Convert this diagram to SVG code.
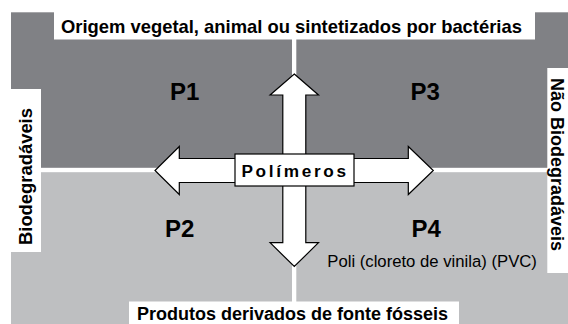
<svg xmlns="http://www.w3.org/2000/svg" width="568" height="324" viewBox="0 0 568 324">
<style>
.dark{fill:#808185}
.light{fill:#bebfc1}
.wbox{fill:#ffffff}
.lbl{font-family:"Liberation Sans",Arial,sans-serif;font-weight:bold;font-size:18.4px;fill:#000}
.edge{font-size:18px}
.pn{font-family:"Liberation Sans",Arial,sans-serif;font-weight:bold;font-size:24px;fill:#000}
.small{font-family:"Liberation Sans",Arial,sans-serif;font-size:16.7px;fill:#000}
.arrow{fill:#fff;stroke:#000;stroke-width:1.2;stroke-linejoin:miter}
</style>
<rect width="568" height="324" fill="#fff"/>
<g id="quadrants">
  <g id="q-P1"><rect class="dark" x="11" y="12.3" width="281" height="155.5"/><text class="pn" x="170" y="99.5">P1</text></g>
  <g id="q-P3"><rect class="dark" x="296.3" y="12.3" width="272" height="155.5"/><text class="pn" x="410.5" y="100">P3</text></g>
  <g id="q-P2"><rect class="light" x="11" y="172.2" width="281" height="152"/><text class="pn" x="165" y="236.6">P2</text></g>
  <g id="q-P4"><rect class="light" x="296.3" y="172.2" width="272" height="152"/><text class="pn" x="411.5" y="236.7">P4</text>
    <text class="small" x="327.3" y="267">Poli (cloreto de vinila) (PVC)</text></g>
</g>
<g id="label-top"><rect class="wbox" x="54" y="0" width="481" height="39.5"/><text class="lbl" x="61" y="32.5">Origem vegetal, animal ou sintetizados por bactérias</text></g>
<g id="label-left"><rect class="wbox" x="0" y="89" width="41" height="163"/><text class="lbl" transform="translate(32,245) rotate(-90)">Biodegradáveis</text></g>
<g id="label-right"><rect class="wbox" x="547.3" y="68" width="21" height="205"/><text class="lbl edge" transform="translate(551.3,78) rotate(90)">Não Biodegradáveis</text></g>
<g id="label-bottom"><rect class="wbox" x="129" y="301.5" width="330" height="23"/><text class="lbl edge" x="137" y="320">Produtos derivados de fonte fósseis</text></g>
<g id="connectors">
  <polygon class="arrow" points="294.3,74 318.5,95 305.8,95 305.8,158.5 408.3,158.5 408.3,146.5 433.3,170.5 408.3,194.5 408.3,182.5 305.8,182.5 305.8,242.7 318.5,242.7 294.3,266.5 270.1,242.7 282.8,242.7 282.8,182.5 179.3,182.5 179.3,194.5 155,170.5 179.3,146.5 179.3,158.5 282.8,158.5 282.8,95 270.1,95"/>
</g>
<g id="center">
  <rect x="235" y="154" width="119" height="32" fill="#fff" stroke="#000" stroke-width="1.2"/>
  <text x="241.4" y="177.3" font-family="'Liberation Sans',Arial,sans-serif" font-weight="bold" font-size="17.2" letter-spacing="2.7">Polímeros</text>
</g>
</svg>
